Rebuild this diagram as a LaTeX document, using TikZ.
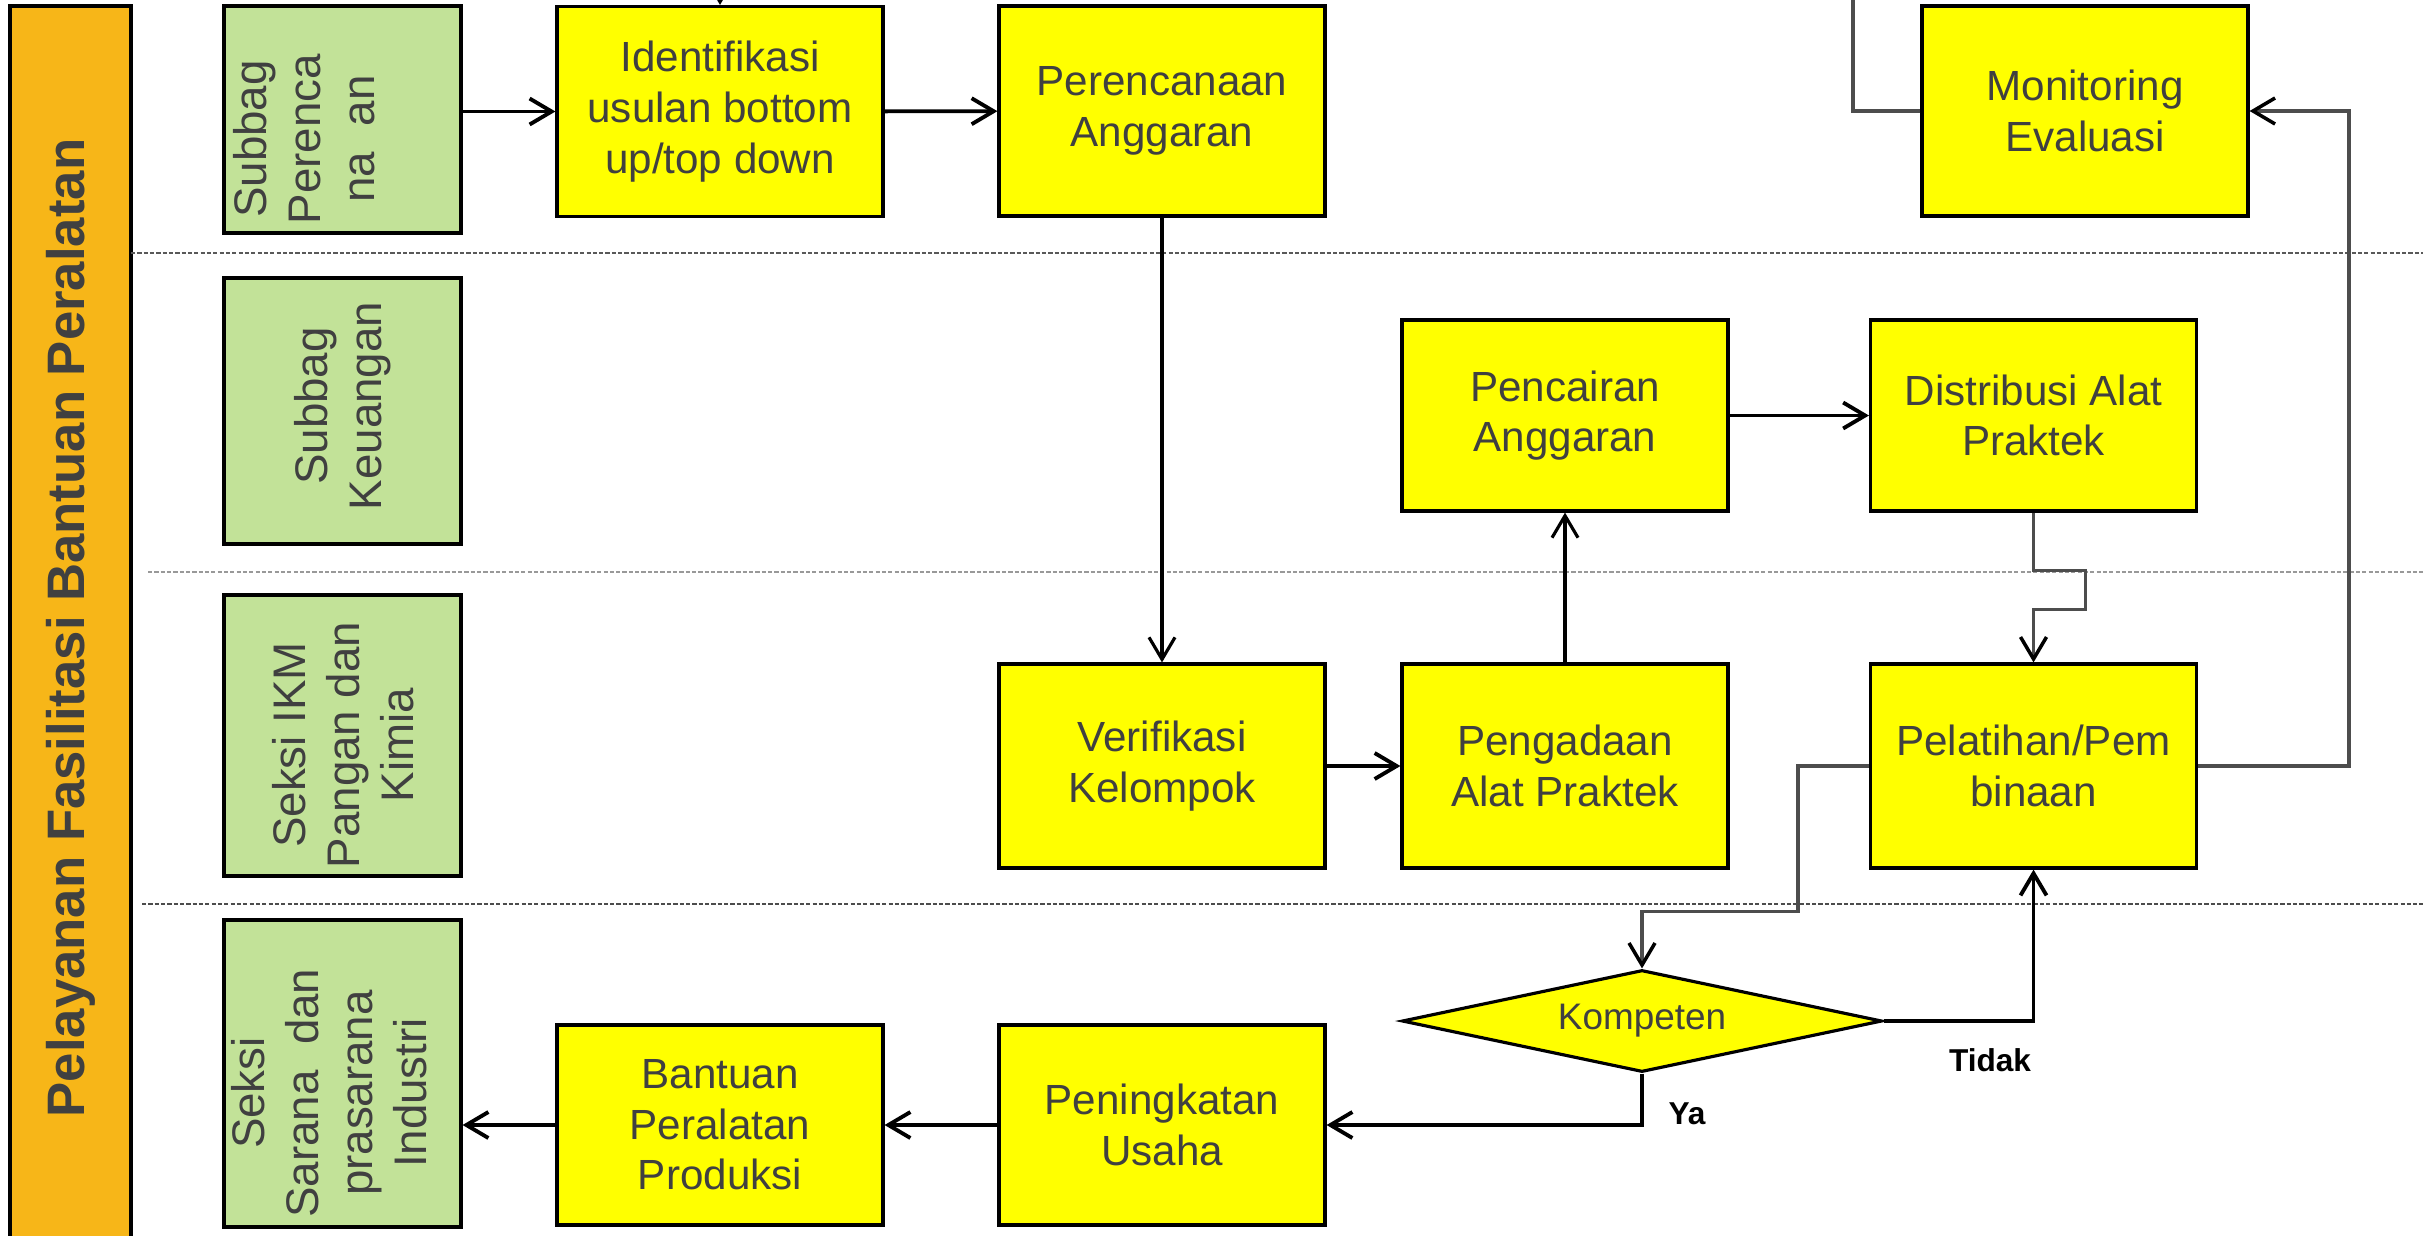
\documentclass[tikz,border=0pt]{standalone}
\usepackage{fontspec}
\setmainfont{Liberation Sans}
\usepackage{xcolor}
\definecolor{procyellow}{HTML}{FFFF00}
\definecolor{lanegreen}{HTML}{C2E298}
\definecolor{barorange}{HTML}{F7B618}
\definecolor{txtgrey}{HTML}{404040}
\definecolor{linkgrey}{HTML}{4D4D4D}
\usetikzlibrary{arrows.meta,shapes.geometric}

\begin{document}
\begin{tikzpicture}[
every node/.style={font=\fontsize{12}{14.4}\selectfont,text=txtgrey},
proc/.style={draw=black,line width=0.9pt,fill=procyellow,minimum width=3.26cm,
minimum height=2.04cm,align=center,inner sep=2pt},
lane/.style={draw=black,line width=0.9pt,fill=lanegreen,minimum width=2.37cm,inner sep=0pt},
lanetxt/.style={rotate=90,align=center,inner sep=0pt,font=\fontsize{13}{15.4}\selectfont},
titlebar/.style={draw=black,line width=0.9pt,fill=barorange,rotate=90,minimum width=12.44cm,
minimum height=1.21cm,font=\fontsize{15}{18}\selectfont\bfseries},
decide/.style={diamond,draw=black,line width=0.9pt,fill=procyellow,aspect=4.7,inner sep=1pt,
minimum width=4.8cm,minimum height=1.02cm,font=\fontsize{10.5}{12.6}\selectfont},
yesno/.style={text=black,font=\fontsize{9}{11}\selectfont\bfseries},
sep/.style={dash pattern=on 1.2pt off 0.6pt,line width=0.6pt},
arr/.style={-{Straight Barb[length=2.2mm,width=2.6mm]},line width=1.1pt,draw=black},
link/.style={line width=1pt,draw=linkgrey},
linkarr/.style={link,-{Straight Barb[length=2.2mm,width=2.6mm,black]}}
]
\useasboundingbox (0,0) rectangle (24.23,-12.35);
\clip (0,0) rectangle (24.23,-12.35);

\node[titlebar] (title) at (0.705,-6.28) {Pelayanan Fasilitasi Bantuan Peralatan};

\node[lane,minimum height=2.27cm] (lane1) at (3.425,-1.195) {};
\node[lane,minimum height=2.66cm] (lane2) at (3.425,-4.11) {};
\node[lane,minimum height=2.81cm] (lane3) at (3.425,-7.355) {};
\node[lane,minimum height=3.07cm] (lane4) at (3.425,-10.735) {};
\node[lanetxt] (lane1txt) at (3.04,-1.39) {Subbag\\Perenca\\na\ \ an};
\node[lanetxt] (lane2txt) at (3.43,-4.06) {Subbag\\Keuangan};
\node[lanetxt] (lane3txt) at (3.43,-7.45) {Seksi IKM\\Pangan dan\\Kimia};
\node[lanetxt] (lane4txt) at (3.29,-10.93) {Seksi\\Sarana\ \ dan\\prasarana\\Industri};

\draw[sep,draw=black!65] (1.31,-2.53) -- (24.23,-2.53);
\draw[sep,draw=black!40] (1.48,-5.72) -- (24.23,-5.72);
\draw[sep,draw=black!70] (1.42,-9.04) -- (24.23,-9.04);

\node[proc,minimum height=2.1cm] (ident) at (7.20,-1.115) {Identifikasi\\usulan bottom\\up/top down};
\node[proc,minimum height=2.1cm] (renc)  at (11.62,-1.11) {Perencanaan\\Anggaran};
\node[proc,minimum height=2.1cm] (monev) at (20.85,-1.11) {Monitoring\\Evaluasi};
\node[proc,minimum height=1.91cm] (cair)  at (15.65,-4.155) {Pencairan\\Anggaran};
\node[proc,minimum height=1.91cm] (distr) at (20.335,-4.155) {Distribusi Alat\\Praktek};
\node[proc] (verif) at (11.62,-7.66) {Verifikasi\\Kelompok};
\node[proc] (adaan) at (15.65,-7.66) {Pengadaan\\Alat Praktek};
\node[proc] (latih) at (20.335,-7.66) {Pelatihan/Pem\\binaan};
\node[proc,minimum height=2cm] (bantu)   at (7.20,-11.25) {Bantuan\\Peralatan\\Produksi};
\node[proc,minimum height=2cm] (tingkat) at (11.62,-11.25) {Peningkatan\\Usaha};
\node[decide] (kompeten) at (16.42,-10.21) {Kompeten};
\node[yesno] (tidak) at (19.90,-10.60) {Tidak};
\node[yesno] (ya) at (16.87,-11.14) {Ya};

\coordinate (topin) at (7.20,0.5);
\coordinate (topout) at (18.53,0.5);

\draw[arr] (topin) -- (ident.north);
\draw[link] (monev.west) -| (topout);
\draw[arr] (ident.west -| lane1.east) -- (ident.west);
\draw[arr] (ident) -- (renc);
\draw[arr,line width=0.9pt] (renc) -- (verif);
\draw[arr] (verif) -- (adaan);
\draw[arr,line width=0.9pt] (adaan) -- (cair);
\draw[arr] (cair) -- (distr);
\draw[linkarr] (distr.south) -- ++(0,-0.58) -- ++(0.52,0) -- ++(0,-0.39) -- ++(-0.52,0) -- (latih.north);
\draw[linkarr] (latih.east) -- ++(1.51,0) |- (monev.east);
\draw[linkarr] (latih.west) -- ++(-0.71,0) |- ([yshift=5.7mm]kompeten.north) -- (kompeten.north);
\draw[arr] (kompeten.east) -| (latih.south);
\draw[arr] (kompeten.south) |- (tingkat.east);
\draw[arr] (tingkat) -- (bantu);
\draw[arr] (bantu.west) -- (bantu.west -| lane4.east);
\end{tikzpicture}
\end{document}
